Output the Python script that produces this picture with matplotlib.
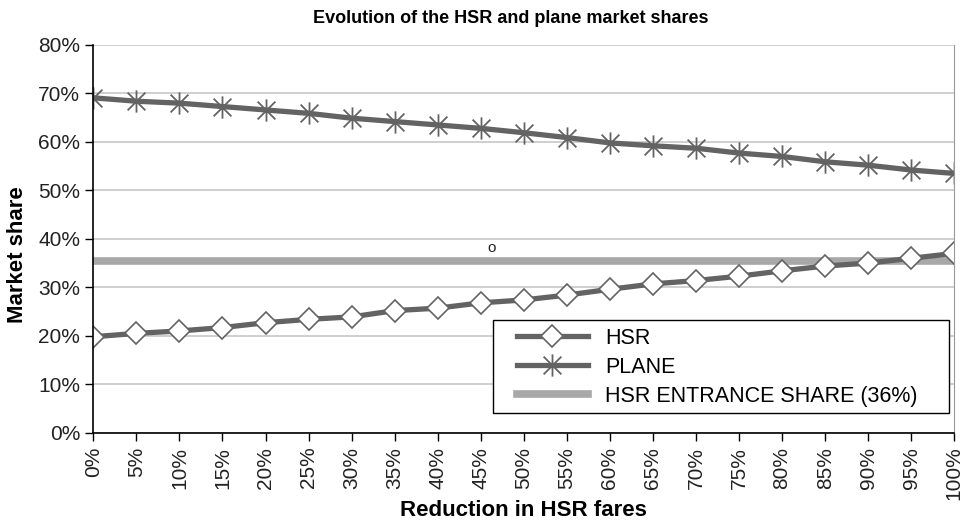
import matplotlib.pyplot as plt
from matplotlib.path import Path
from matplotlib.patches import Rectangle

plt.rcParams['font.family'] = ['Liberation Sans', 'DejaVu Sans']

# Data
reductions = ['0%', '5%', '10%', '15%', '20%', '25%', '30%', '35%', '40%', '45%', '50%',
              '55%', '60%', '65%', '70%', '75%', '80%', '85%', '90%', '95%', '100%']
hsr = [19.8, 20.5, 21.0, 21.7, 22.7, 23.4, 23.9, 25.2, 25.7, 26.8, 27.4,
       28.4, 29.6, 30.7, 31.4, 32.3, 33.4, 34.4, 35.0, 36.0, 37.0]
plane = [69.1, 68.4, 68.0, 67.3, 66.6, 65.9, 64.9, 64.2, 63.5, 62.8, 61.9,
         60.9, 59.8, 59.2, 58.7, 57.7, 57.0, 55.9, 55.2, 54.2, 53.5]
entrance_share = 35.4

# Excel-like asterisk marker: an X plus a vertical bar
asterisk = Path([(0, -1), (0, 1), (-0.8, -0.8), (0.8, 0.8), (-0.8, 0.8), (0.8, -0.8)],
                [Path.MOVETO, Path.LINETO, Path.MOVETO, Path.LINETO, Path.MOVETO, Path.LINETO])

x = list(range(len(reductions)))
line_col = '#636363'

fig = plt.figure(figsize=(9.66, 5.22), dpi=100)
ax = fig.add_axes([0.0966, 0.171, 0.8913, 0.7428])

ax.plot(x, [v / 100 for v in hsr], color=line_col, lw=3.8, marker='D', markersize=11,
        markerfacecolor='white', markeredgecolor=line_col, markeredgewidth=1.2,
        label='HSR', zorder=4)
ax.plot(x, [v / 100 for v in plane], color=line_col, lw=3.8, marker=asterisk, markersize=16,
        markerfacecolor='none', markeredgecolor=line_col, markeredgewidth=1.3,
        label='PLANE', zorder=4)
ax.plot(x, [entrance_share / 100] * len(x), color='#a8a8a8', lw=5.5,
        label='HSR ENTRANCE SHARE (36%)', zorder=3)

ax.text(9.25, 0.381, 'o', fontsize=11, ha='center', va='center', color='#222222')

ax.set_xlim(0, len(x) - 1)
ax.set_ylim(0, 0.8)
ax.set_yticks([i / 10 for i in range(9)])
ax.set_yticklabels([f'{i * 10}%' for i in range(9)], fontsize=15)
ax.set_xticks(x)
ax.set_xticklabels(reductions, rotation=90, fontsize=15)
ax.tick_params(axis='both', direction='out', length=6, width=1, colors='black',
               labelcolor='#222222')
ax.tick_params(axis='x', pad=4)

ax.yaxis.grid(True, color='#cccccc', lw=1.3)
ax.set_axisbelow(True)
ax.spines['top'].set_visible(False)
ax.spines['right'].set_color('#999999')
ax.spines['left'].set_linewidth(1.2)
ax.spines['bottom'].set_linewidth(1.2)
for s in ax.spines.values():
    s.set_zorder(5)

fig.text(0.529, 0.965, 'Evolution of the HSR and plane market shares', fontsize=13,
         fontweight='bold', ha='center', va='center')
ax.set_xlabel('Reduction in HSR fares', fontsize=16, fontweight='bold', labelpad=0)
ax.set_ylabel('Market share', fontsize=16, fontweight='bold')
ax.yaxis.set_label_coords(-0.076, 0.46)

# legend box drawn separately so its padding matches the original
ax.add_patch(Rectangle((0.464, 0.051), 0.530, 0.240, transform=ax.transAxes,
                       facecolor='white', edgecolor='black', lw=1.0, zorder=6))
leg = ax.legend(loc='upper left', bbox_to_anchor=(0.492, 0.271), borderaxespad=0,
                borderpad=0, fontsize=15.5, frameon=False, handlelength=3.3,
                labelspacing=0.37, handletextpad=0.8)
leg.set_zorder(7)

fig.savefig('out.png', dpi=100)
